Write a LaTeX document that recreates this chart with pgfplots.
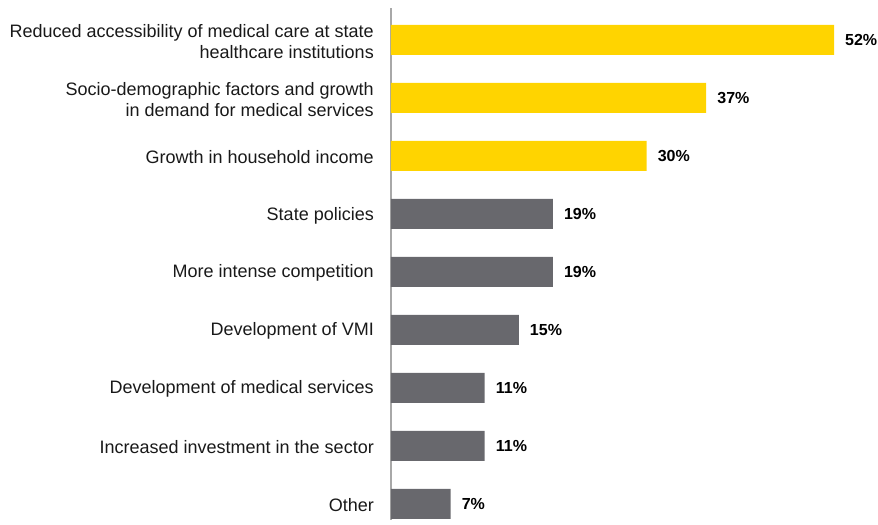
\documentclass[border=0pt]{standalone}
\usepackage{pgfplots}
\pgfplotsset{compat=1.18}
\usepackage{fontspec}
\setmainfont{Liberation Sans}
\definecolor{eyyellow}{HTML}{FFD400}
\definecolor{eygray}{HTML}{68686D}
\definecolor{axgray}{HTML}{A8A8A8}
\begin{document}
\begin{tikzpicture}
\begin{axis}[
  scale only axis,
  width=443pt, height=512pt,
  xmin=0, xmax=52,
  ymin=-0.55, ymax=8.28,
  y dir=reverse,
  axis x line=none,
  axis y line*=left,
  y axis line style={axgray, line width=1.5pt, -},
  clip=false,
  xbar, bar width=30pt,
  ytick={0,...,8},
  yticklabels={{Reduced accessibility of medical care at state\hspace{5pt}\\healthcare institutions},
    {Socio-demographic factors and growth\hspace{5pt}\\in demand for medical services},
    {Growth in household income},{State policies},{More intense competition},
    {Development of VMI},{Development of medical services},
    {Increased investment in the sector},{Other}},
  major tick length=0pt,
  ytick style={draw=none},
  yticklabel style={align=right, anchor=east, inner sep=0pt, xshift=-17pt, yshift=-1.5pt,
    font=\fontsize{18}{21}\selectfont, text=black!90},
  xtick=\empty,
  /pgf/number format/assume math mode=true,
  nodes near coords={\pgfmathprintnumber{\pgfplotspointmeta}\%},
  nodes near coords style={anchor=west, inner sep=0pt, xshift=11pt,
    font=\bfseries\fontsize{16}{19}\selectfont, text=black},
  point meta=x,
]
\addplot[draw=none, fill=eyyellow, bar shift=0pt] coordinates {(52,0) (37,1) (30,2)};
\addplot[draw=none, fill=eygray, bar shift=0pt] coordinates {(19,3) (19,4) (15,5) (11,6) (11,7) (7,8)};
\coordinate (sw) at (axis description cs:0,0);
\coordinate (ne) at (axis description cs:1,1);
\end{axis}
\pgfresetboundingbox
\path ([shift={(-391pt,-4pt)}]sw) rectangle ([shift={(44pt,8pt)}]ne);
\end{tikzpicture}
\end{document}
